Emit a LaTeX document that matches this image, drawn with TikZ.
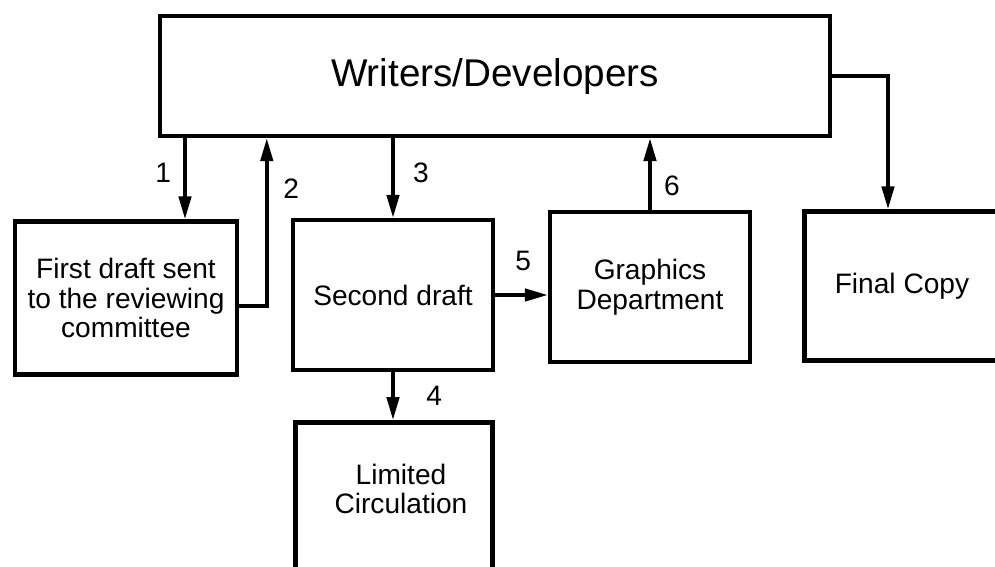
\documentclass[tikz,border=0pt]{standalone}
\usepackage{fontspec}
\setmainfont{Liberation Sans}
\usetikzlibrary{arrows.meta,positioning,calc}
\tikzset{
  box/.style={draw=black, line width=2.6pt, inner sep=2pt, align=center, font=\fontsize{16}{17}\selectfont},
  txt/.style={inner sep=0pt, align=center, font=\fontsize{16}{17}\selectfont},
  arr/.style={-{Triangle[length=13pt,width=7pt]}, line width=2pt},
  num/.style={inner sep=1pt, font=\fontsize{16}{17}\selectfont},
}

\begin{document}
\begin{tikzpicture}[x=0.02cm,y=-0.02cm]
  \useasboundingbox (0,0) rectangle (995,566);
  \clip (0,0) rectangle (995,566);
  \node[box, minimum width=13.4cm, minimum height=2.4cm, font=\fontsize{22}{26}\selectfont] (wd) at (495,76) {Writers/Developers};
  \node[box, minimum width=4.44cm, minimum height=3.06cm] (fd) at (126,298) {First draft sent\\to the reviewing\\committee};
  \node[box, minimum width=4cm, minimum height=3cm] (sd) at (393,295) {Second draft};
  \node[box, minimum width=4cm, minimum height=3cm] (gd) at (650,287) {Graphics\\Department};
  \node[box, minimum width=3.9cm, minimum height=2.98cm] (fc) at (902,286) {Final Copy};
  \node[box, minimum width=3.94cm, minimum height=3.6cm, anchor=north] (lc) at (394,420) {};
  \node[txt] (lctxt) at ($(lc.north)+(7,69)$) {Limited\\Circulation};
  \coordinate (a1) at ($(fd.north)+(59,0)$);
  \coordinate (a2) at ($(fd.east)+(0,8)$);
  \coordinate (af) at ($(fc.north)+(-14,0)$);
  \draw[arr] (wd.south -| a1) -- node[num, left=6pt, pos=0.43] {1} (a1);
  \draw[arr] (a2) -| node[num, right=7.5pt, pos=0.85] {2} ($(wd.south west)+(109,0)$);
  \draw[arr] (wd.south -| sd.north) -- node[num, right=9.5pt, pos=0.44] {3} (sd.north);
  \draw[arr] (sd.south) -- node[num, right=17pt, pos=0.5] {4} (sd.south |- lc.north);
  \draw[arr] (sd.east) -- node[num, above=12pt, pos=0.53] {5} (sd.east -| gd.west);
  \draw[arr] (gd.north) -- node[num, right=6pt, pos=0.34] {6} (gd.north |- wd.south);
  \draw[arr] (wd.east) -| (af);
\end{tikzpicture}
\end{document}
